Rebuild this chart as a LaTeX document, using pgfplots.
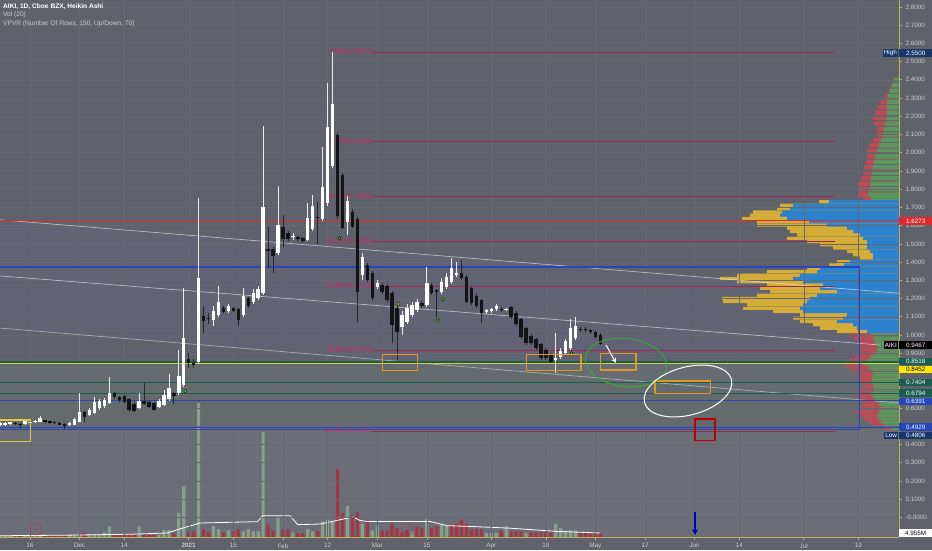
\documentclass[border=0pt]{standalone}
\usepackage{fontspec}
\setmainfont{Liberation Sans}
\usepackage{pgfplots}
\pgfplotsset{compat=1.18}
\usepackage{pgfplotstable}
\usetikzlibrary{arrows.meta}

\definecolor{bg}{RGB}{95,98,107}
\definecolor{gridc}{RGB}{101,104,113}
\definecolor{axisc}{RGB}{190,175,95}
\definecolor{tickc}{RGB}{205,205,205}
\definecolor{fibline}{RGB}{150,45,80}
\definecolor{fibtxt}{RGB}{215,35,95}
\definecolor{redl}{RGB}{225,40,45}
\definecolor{bluel}{RGB}{40,70,185}
\definecolor{yell}{RGB}{215,205,60}
\definecolor{tealc}{RGB}{25,95,80}
\definecolor{volg}{RGB}{135,160,140}
\definecolor{volr}{RGB}{165,52,68}
\definecolor{vpblue}{RGB}{45,130,205}
\definecolor{vpyel}{RGB}{212,172,55}
\definecolor{vpgreen}{RGB}{90,150,95}
\definecolor{vpred}{RGB}{190,75,85}
\definecolor{navy}{RGB}{25,55,105}
\definecolor{orangeb}{RGB}{225,150,40}
\definecolor{chan}{RGB}{120,110,190}
\definecolor{lowzone}{RGB}{125,140,115}
\definecolor{volzone}{RGB}{125,126,135}

\newcommand{\tlfont}{\fontsize{6.3}{7}\selectfont}

% Heikin Ashi candles: x = trading day (0 = 16 Nov 2020), body lo/hi, wick wl/wh
\pgfplotstableread{
x lo hi wl wh
-6 0.505 0.515 0.500 0.520
-5 0.507 0.515 0.503 0.520
-4 0.510 0.520 0.505 0.525
-1 0.512 0.528 0.508 0.532
0 0.515 0.521 0.510 0.526
1 0.520 0.528 0.515 0.533
2 0.525 0.545 0.520 0.555
8 0.505 0.515 0.500 0.520
9 0.508 0.538 0.505 0.545
10 0.525 0.576 0.520 0.680
12 0.561 0.589 0.555 0.600
13 0.574 0.631 0.565 0.660
14 0.598 0.638 0.590 0.650
15 0.610 0.645 0.600 0.655
16 0.629 0.680 0.620 0.771
22 0.601 0.640 0.595 0.680
26 0.607 0.638 0.600 0.650
27 0.616 0.671 0.610 0.700
28 0.647 0.711 0.640 0.784
30 0.680 0.777 0.670 0.918
31 0.726 0.985 0.715 1.256
34 0.853 1.311 0.840 1.752
37 1.082 1.133 1.050 1.160
38 1.110 1.183 1.100 1.270
40 1.133 1.159 1.120 1.170
43 1.110 1.214 1.100 1.260
45 1.183 1.229 1.170 1.250
46 1.201 1.251 1.190 1.270
47 1.229 1.704 1.220 2.146
50 1.448 1.603 1.440 1.817
53 1.535 1.545 1.520 1.560
56 1.521 1.643 1.515 1.726
57 1.580 1.708 1.570 1.770
59 1.635 1.813 1.625 2.033
60 1.722 2.142 1.710 2.381
61 1.927 2.267 1.915 2.552
64 1.621 1.735 1.550 1.760
67 1.329 1.430 1.300 1.450
70 1.265 1.284 1.250 1.300
75 1.046 1.110 1.000 1.130
76 1.073 1.146 1.060 1.170
77 1.110 1.165 1.100 1.180
78 1.137 1.183 1.125 1.200
80 1.165 1.287 1.155 1.375
83 1.237 1.293 1.225 1.310
84 1.265 1.320 1.255 1.340
85 1.289 1.369 1.280 1.420
86 1.330 1.340 1.320 1.400
92 1.125 1.135 1.115 1.145
93 1.130 1.140 1.120 1.150
94 1.140 1.160 1.130 1.170
96 1.138 1.144 1.130 1.150
106 0.865 0.875 0.790 1.010
107 0.878 0.913 0.870 0.930
108 0.903 0.967 0.895 0.980
109 0.927 1.037 0.920 1.090
110 0.982 1.049 0.975 1.100
}\upc

\pgfplotstableread{
x lo hi wl wh
-3 0.510 0.516 0.505 0.520
-2 0.508 0.514 0.490 0.518
3 0.520 0.532 0.515 0.536
4 0.518 0.527 0.514 0.530
5 0.515 0.523 0.510 0.527
6 0.508 0.519 0.504 0.522
7 0.500 0.513 0.486 0.516
11 0.552 0.579 0.520 0.585
17 0.658 0.680 0.650 0.690
18 0.643 0.662 0.635 0.668
19 0.634 0.665 0.625 0.670
20 0.589 0.647 0.580 0.652
21 0.585 0.622 0.575 0.630
23 0.622 0.636 0.615 0.735
24 0.603 0.631 0.598 0.636
25 0.590 0.625 0.585 0.630
29 0.665 0.680 0.620 0.690
32 0.845 0.868 0.820 0.900
33 0.835 0.845 0.820 0.870
35 1.078 1.104 1.010 1.160
36 1.085 1.095 1.060 1.120
39 1.128 1.147 1.120 1.160
41 1.133 1.147 1.125 1.155
42 1.082 1.141 1.050 1.150
44 1.159 1.201 1.150 1.210
48 1.462 1.470 1.366 1.594
49 1.433 1.470 1.340 1.480
51 1.525 1.594 1.480 1.660
52 1.525 1.558 1.515 1.570
54 1.525 1.535 1.515 1.545
55 1.514 1.532 1.505 1.540
58 1.640 1.646 1.500 1.730
62 1.653 2.097 1.640 2.110
63 1.589 1.878 1.580 1.890
65 1.594 1.676 1.585 1.690
66 1.237 1.635 1.073 1.645
68 1.302 1.384 1.290 1.395
69 1.201 1.338 1.190 1.350
71 1.237 1.274 1.225 1.285
72 1.192 1.269 1.180 1.280
73 1.055 1.229 0.954 1.240
74 1.018 1.146 0.863 1.160
79 1.160 1.175 1.150 1.185
81 1.229 1.274 1.220 1.285
82 1.235 1.245 1.100 1.255
87 1.311 1.342 1.300 1.410
88 1.183 1.317 1.175 1.330
89 1.174 1.256 1.165 1.265
90 1.159 1.214 1.150 1.225
91 1.119 1.192 1.064 1.200
95 1.135 1.145 1.125 1.155
97 1.097 1.152 1.090 1.160
98 1.060 1.119 1.050 1.130
99 0.991 1.086 0.980 1.095
100 0.954 1.037 0.945 1.045
101 0.954 0.995 0.945 1.005
102 0.927 0.976 0.918 0.985
103 0.872 0.949 0.862 0.958
104 0.872 0.918 0.862 0.928
105 0.854 0.890 0.845 0.900
111 1.025 1.035 1.015 1.045
112 1.025 1.035 1.015 1.045
113 1.015 1.025 1.005 1.035
114 0.987 1.018 0.978 1.028
115 0.951 1.000 0.945 1.010
}\downc

% volume profile rows: price, total volume, up volume
\pgfplotstableread{
p tot up
2.400 6 5
2.370 8 7
2.340 10 9
2.310 14 11
2.280 18 12
2.250 22 12
2.220 24 12
2.190 26 13
2.160 25 14
2.130 22 15
2.100 22 16
2.070 26 18
2.040 30 20
2.010 32 22
1.980 32 24
1.950 33 25
1.920 35 26
1.890 36 27
1.860 38 28
1.830 40 29
1.800 41 30
1.770 40 31
1.748 36 28
}\vphigh

\pgfplotstableread{
p tot up
1.731 80 70
1.713 119 106
1.695 122 109
1.676 146 117
1.658 149 119
1.640 157 112
1.622 142 90
1.603 142 72
1.585 112 52
1.567 109 46
1.549 102 39
1.530 112 36
1.512 92 32
1.494 79 32
1.476 66 32
1.457 52 29
1.439 46 26
1.421 39 26
1.402 62 49
1.384 70 55
1.366 92 79
1.347 132 82
1.329 162 99
1.311 179 106
1.292 162 96
1.274 132 76
1.256 139 79
1.238 129 62
1.219 142 82
1.201 177 89
1.183 176 92
1.165 152 96
1.146 156 99
1.128 126 96
1.110 99 52
1.092 106 56
1.073 99 62
1.055 86 46
1.037 79 42
1.018 62 32
}\vpva

\pgfplotstableread{
p tot up
1.000 50 28
0.980 45 25
0.960 42 24
0.940 40 22
0.920 38 22
0.900 40 24
0.880 44 28
0.860 50 32
0.840 54 34
0.820 50 30
0.800 46 27
0.780 42 26
0.760 40 27
0.740 38 28
0.720 36 26
0.700 40 25
0.680 44 28
0.660 42 26
0.640 38 24
0.620 36 20
0.600 40 18
0.580 44 20
0.560 40 22
0.540 35 20
0.520 30 18
0.500 24 14
0.486 14 8
}\vplow

\pgfplotsset{base/.style={scale only axis, width=899pt, height=537pt,
  xmin=-6.048, xmax=175.2, ymin=-0.1081, ymax=2.8376}}

\begin{document}
\begin{tikzpicture}
\useasboundingbox (0,-13pt) rectangle (932pt,537pt);
\fill[bg] (0,-13pt) rectangle (932pt,537pt);

\begin{scope}[x=1pt,y=-1pt,yshift=537pt]
  \fill[chan, opacity=0.11] (0,219.7) -- (899,293.5) -- (899,403) -- (0,328) -- cycle;
  \fill[lowzone, opacity=0.22] (0,363) rectangle (899,430);
  \fill[volzone, opacity=0.45] (0,430) rectangle (899,537);
\end{scope}

% volume pane
\begin{axis}[base, hide axis, ymin=0, ymax=644.4]
\addplot[ybar, bar width=3.2pt, bar shift=0pt, fill=volg, draw=none] coordinates {
(-6,1.8)(-5,1.8)(-4,1.8)(-1,2)(0,2)(1,2)(2,2.4)(8,1.8)(9,2.4)(10,3)(12,3)(13,3.6)(14,3)
(15,6)(16,12.7)(22,12.7)(26,3)(27,8.4)(28,8.4)(30,28.8)(31,60.7)(34,160.8)(37,13.2)(38,9.6)
(40,8)(43,6.7)(44,9.6)(45,6.7)(46,6.7)(47,126)(50,24.8)(53,5.6)(56,9.6)(57,6.7)(59,18.8)
(60,20.8)(61,18.8)(64,37.2)(67,16)(69,8)(70,13.6)(77,6.7)(80,22)(83,14.8)(84,13.6)
(92,4.8)(93,4.8)(94,4.8)(96,12.8)(100,4.8)(106,16)(107,10.8)(108,8)(109,8)(110,8)};
\addplot[ybar, bar width=3.2pt, bar shift=0pt, fill=volr, draw=none] coordinates {
(-3,1.5)(-2,1.5)(3,1.8)(4,1.8)(5,1.8)(6,1.8)(7,2.4)(11,4.8)(17,3.6)(18,3.6)(19,3.6)(20,3.6)
(21,3.6)(23,3)(24,3)(25,3)(29,4)(32,6.7)(33,6.7)(35,9.6)(36,5.5)(39,5.5)(41,6.7)(42,9.6)
(48,14.8)(49,8)(51,8.8)(52,8.8)(54,4.8)(55,4.8)(58,6.7)(62,81.6)(63,28.8)(65,25.6)(66,29.6)
(68,20.8)(71,8)(72,8)(73,16)(74,10.8)(75,5.5)(76,8)(78,12)(79,10.8)(81,10.8)(82,12.8)
(85,14.8)(86,16)(87,20.8)(88,16)(89,8.8)(90,9.6)(91,9.6)(95,8)(97,6.7)(98,6.7)(99,6.7)
(101,5.5)(102,5.5)(103,5.5)(104,5.5)(105,5.5)(111,4.8)(112,4.8)(113,4.8)(114,4.8)(115,4.8)};
\addplot[white, line width=0.8pt] coordinates {
(-6,1.5)(7.5,2.2)(20.8,3.4)(27.6,4.8)(30.2,9.6)(34.3,16.8)(45.8,18.4)(47,25.6)(52.4,25.6)
(54,14.8)(58.5,15.6)(61.9,19.9)(65.1,24)(66.5,19.9)(68,18.7)(80.6,18.7)(84.1,13.6)
(88.7,12.7)(96.8,10.6)(106.3,6.7)(115,4.8)};
\end{axis}

% volume profile (VPVR)
\begin{axis}[base, hide axis, x dir=reverse, xmin=0, xmax=899]
\addplot[xbar, bar shift=0pt, bar width=0.024, fill=vpred, draw=none] table[x=tot, y=p] {\vphigh};
\addplot[xbar, bar shift=0pt, bar width=0.024, fill=vpgreen, draw=none] table[x=up, y=p] {\vphigh};
\addplot[xbar, bar shift=0pt, bar width=0.0165, fill=vpyel, draw=none] table[x=tot, y=p] {\vpva};
\addplot[xbar, bar shift=0pt, bar width=0.0165, fill=vpblue, draw=none] table[x=up, y=p] {\vpva};
\addplot[xbar, bar shift=0pt, bar width=0.017, fill=vpred, draw=none] table[x=tot, y=p] {\vplow};
\addplot[xbar, bar shift=0pt, bar width=0.017, fill=vpgreen, draw=none] table[x=up, y=p] {\vplow};
\end{axis}

% price pane
\begin{axis}[base,
  axis x line*=bottom, axis y line*=right,
  axis line style={draw=axisc, line width=0.8pt},
  xtick={0,10,19,32,41,51,60,70,80,93,104,114,124,134,143,156,167},
  xticklabels={16,Dec,14,\textbf{2021},15,Feb,12,Mar,15,Apr,19,May,17,Jun,14,Jul,19},
  ytick={0,0.1,0.2,0.3,0.4,0.6,0.9,1,1.1,1.2,1.3,1.4,1.5,1.6,1.7,1.8,1.9,2,2.1,2.2,2.3,2.4,2.5,2.6,2.7,2.8},
  yticklabels={-0.0000,0.1000,0.2000,0.3000,0.4000,0.6000,0.9000,1.0000,1.1000,1.2000,1.3000,1.4000,1.5000,1.6000,1.7000,1.8000,1.9000,2.0000,2.1000,2.2000,2.3000,2.4000,2.5000,2.6000,2.7000,2.8000},
  extra y ticks={0.5,0.7,0.8}, extra y tick labels={},
  extra y tick style={grid=major},
  tick align=outside, major tick length=3pt,
  tick style={draw=axisc, line width=0.6pt},
  xticklabel style={font=\tlfont, text=tickc},
  yticklabel style={font=\tlfont, text=tickc},
  xmajorgrids, ymajorgrids, grid style={draw=gridc, line width=0.4pt},
]
% channel lines
\addplot[white, opacity=0.55, line width=0.7pt] coordinates {(-6.048,1.632)(175.2,1.229)};
\addplot[white, opacity=0.55, line width=0.7pt] coordinates {(-6.048,1.324)(171.4,0.945)};
\addplot[white, opacity=0.45, line width=0.7pt] coordinates {(-6.048,1.038)(175.2,0.627)};
% horizontal levels
\addplot[redl, line width=1.6pt] coordinates {(-6.048,1.6273)(175.2,1.6273)};
\addplot[tealc, line width=1.2pt] coordinates {(-6.048,0.8518)(175.2,0.8518)};
\addplot[yell, line width=1.2pt] coordinates {(-6.048,0.8452)(175.2,0.8452)};
\addplot[tealc, line width=1.2pt] coordinates {(-6.048,0.7404)(175.2,0.7404)};
\addplot[tealc, line width=1.2pt] coordinates {(-6.048,0.6794)(175.2,0.6794)};
\addplot[bluel, line width=1.2pt] coordinates {(-6.048,0.6391)(175.2,0.6391)};
\addplot[bluel, line width=1.2pt] coordinates {(-6.048,0.4929)(175.2,0.4929)};
% fibonacci retracement
\foreach \v/\t in {2.5527/0.00\%(2.5527),2.0618/23.60\%(2.0618),1.7580/38.20\%(1.7580),1.5125/50.00\%(1.5125),1.2670/61.80\%(1.2670),0.9175/78.60\%(0.9175),0.4723/100.00\%(0.4723)}{
  \edef\temp{\noexpand\addplot[fibline, line width=0.8pt] coordinates {(68.95,\v)(162.3,\v)};
    \noexpand\node[anchor=east, inner sep=0.5pt, text=fibtxt, font=\noexpand\fontsize{6.2}{7}\noexpand\selectfont] at (axis cs:68.9,\v) {\t};}
  \temp}
% blue box
\addplot[bluel, line width=1.3pt] coordinates {(-6.048,1.3728)(167.3,1.3728)(167.3,0.4806)(-6.048,0.4806)};
% candles: wicks then bodies
\addplot[draw=none, error bars/.cd, y dir=plus, y explicit, error mark=none,
  error bar style={draw=white!85!gray, line width=0.7pt}]
  table[x=x, y=wl, y error expr=\thisrow{wh}-\thisrow{wl}] {\upc};
\addplot[draw=none, error bars/.cd, y dir=plus, y explicit, error mark=none,
  error bar style={draw=black!85, line width=0.7pt}]
  table[x=x, y=wl, y error expr=\thisrow{wh}-\thisrow{wl}] {\downc};
\addplot[draw=none, error bars/.cd, y dir=plus, y explicit, error mark=none,
  error bar style={draw=white, line width=3.4pt}]
  table[x=x, y=lo, y error expr=\thisrow{hi}-\thisrow{lo}] {\upc};
\addplot[draw=none, error bars/.cd, y dir=plus, y explicit, error mark=none,
  error bar style={draw=black!92, line width=3.4pt}]
  table[x=x, y=lo, y error expr=\thisrow{hi}-\thisrow{lo}] {\downc};
% signal dots
\addplot[only marks, mark=*, mark size=1.6pt, mark options={fill=green!60!lime, draw=none}]
  coordinates {(31.3,0.693)(62.4,1.53)(82.2,1.082)(83.3,1.197)(109.2,0.90)};
\addplot[only marks, mark=*, mark size=1.6pt, mark options={fill=yellow!90!orange, draw=none}]
  coordinates {(74.3,1.17)};
\end{axis}

% drawn annotations and price-scale labels (pixel coordinates)
\begin{scope}[x=1pt,y=-1pt,yshift=537pt]
  \draw[orangeb, line width=1.1pt] (382.3,354.3) rectangle (417.3,370.3);
  \draw[orangeb, line width=1.1pt] (526.7,354.3) rectangle (581,370.3);
  \draw[orangeb, line width=1.1pt] (600.7,353.3) rectangle (636,370);
  \draw[orangeb, line width=1.1pt] (655,381) rectangle (710.7,393.3);
  \draw[yell, line width=1.1pt] (-2,420) rectangle (30.7,441.7);
  \draw[red!75!black, line width=1.1pt] (695,419) rectangle (715,440.7);
  \draw[green!60!black!80!white, line width=0.9pt, rotate around={-7:(626,362.5)}] (626,362.5) ellipse [x radius=41, y radius=24];
  \draw[white, line width=1pt, rotate around={15:(688,391)}] (688,391) ellipse [x radius=45, y radius=24];
  \draw[white, line width=1pt, -{Stealth[length=5pt,width=5pt]}] (606,345) -- (616,363);
  \draw[blue!70!black, line width=1.6pt, -{Stealth[length=6pt,width=6pt]}] (695,512) -- (695,535);
  \draw[red!60!gray, opacity=0.6, line width=0.7pt] (36,529) circle (6);
  \fill[red!60!gray, opacity=0.6] (36,529) circle (1.2);
  \draw[red!60!gray, opacity=0.6, line width=0.7pt] (407,530) circle (6);
  \fill[red!60!gray, opacity=0.6] (407,530) circle (1.2);
  % titles
  \node[anchor=west, inner sep=0pt, text=white, font=\fontsize{6.6}{7}\selectfont\bfseries] at (3,6.7) {AIKI, 1D, Cboe BZX, Heikin Ashi};
  \node[anchor=west, inner sep=0pt, text=tickc, font=\fontsize{6.6}{7}\selectfont] at (3,15) {Vol (20)};
  \node[anchor=west, inner sep=0pt, text=tickc, font=\fontsize{6.6}{7}\selectfont] at (3,23.3) {VPVR (Number Of Rows, 150, Up/Down, 70)};
  % price scale labels
  \tikzset{plab/.style={anchor=west, inner sep=0pt, minimum height=7.5pt, minimum width=33pt, font=\tlfont}}
  \node[plab, fill=navy, text=white] at (899,53) {2.5500};
  \node[anchor=east, inner sep=1pt, minimum height=7.5pt, fill=navy, text=white, font=\tlfont] at (898,53) {High};
  \node[plab, fill=redl, text=white] at (899,221) {1.6273};
  \node[plab, fill=black, text=white] at (899,345) {0.9467};
  \node[anchor=east, inner sep=1pt, minimum height=7.5pt, fill=black, text=white, font=\tlfont] at (898,345) {AIKI};
  \node[plab, fill=tealc, text=white] at (899,361.5) {0.8518};
  \node[plab, fill=yellow!90!orange, text=black] at (899,369.5) {0.8452};
  \node[plab, fill=tealc, text=white] at (899,382.5) {0.7404};
  \node[plab, fill=tealc, text=white] at (899,393) {0.6794};
  \node[plab, fill=bluel, text=white] at (899,401.5) {0.6391};
  \node[plab, fill=bluel, text=white] at (899,427) {0.4929};
  \node[plab, fill=navy, text=white] at (899,435.5) {0.4806};
  \node[anchor=east, inner sep=1pt, minimum height=7.5pt, fill=navy, text=white, font=\tlfont] at (898,435.5) {Low};
  \node[plab, fill=white, text=black] at (899,533) {4.955M};
\end{scope}
\end{tikzpicture}
\end{document}
